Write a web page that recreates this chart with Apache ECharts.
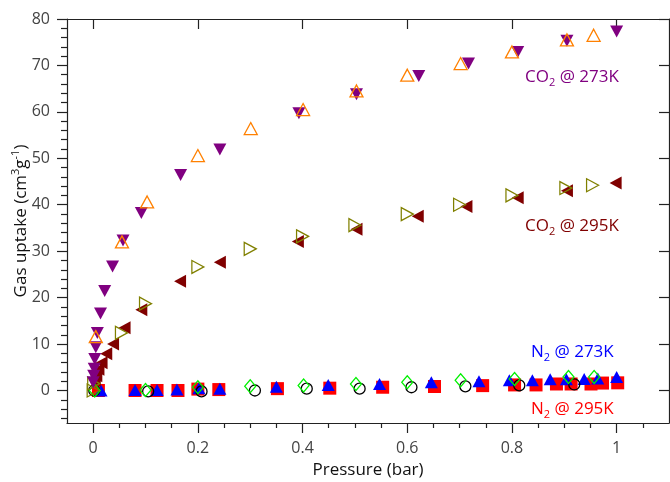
<!DOCTYPE html>
<html>
<head>
<meta charset="utf-8">
<script src="https://cdn.jsdelivr.net/npm/echarts@6/dist/echarts.min.js"></script>
<style>html,body{margin:0;padding:0;background:#fff}#c{width:670px;height:482px}</style>
</head>
<body>
<div id="c"></div>
<script>
// ---- data ----
const co2_273_ads = [[0.000,1.8],[0.001,3.2],[0.002,4.7],[0.003,6.8],[0.005,9.3],[0.008,12.4],[0.014,16.6],[0.022,21.4],[0.037,26.7],[0.057,32.3],[0.092,38.2],[0.167,46.4],[0.242,51.9],[0.393,59.7],[0.503,63.8],[0.622,67.7],[0.717,70.4],[0.811,72.9],[0.905,75.3],[1.0,77.3]];
const co2_273_des = [[0.005,11.6],[0.055,32.0],[0.103,40.6],[0.2,50.6],[0.301,56.4],[0.401,60.5],[0.503,64.5],[0.6,67.9],[0.702,70.4],[0.8,72.9],[0.905,75.5],[0.956,76.5]];
const co2_295_ads = [[0.003,2.2],[0.006,3.2],[0.010,4.6],[0.016,6.0],[0.025,7.9],[0.038,10.0],[0.060,13.5],[0.092,17.4],[0.166,23.5],[0.242,27.6],[0.391,32.1],[0.503,34.7],[0.620,37.5],[0.713,39.6],[0.811,41.5],[0.905,43.0],[0.998,44.7]];
const co2_295_des = [[0.000,0.0],[0.001,1.5],[0.054,12.4],[0.100,18.7],[0.200,26.6],[0.300,30.5],[0.400,33.2],[0.500,35.6],[0.600,38.0],[0.700,40.0],[0.800,42.0],[0.903,43.6],[0.954,44.2]];
const n2_273_ads = [[0.015,0.0],[0.080,0.1],[0.122,0.1],[0.160,0.2],[0.202,0.5],[0.242,0.4],[0.350,0.8],[0.449,1.2],[0.547,1.4],[0.646,1.8],[0.737,2.0],[0.795,2.2],[0.839,2.2],[0.873,2.4],[0.904,2.4],[0.938,2.5],[0.964,2.6],[1.0,2.9]];
const n2_273_des = [[0.003,0.0],[0.100,0.1],[0.200,0.7],[0.300,0.9],[0.402,1.1],[0.502,1.4],[0.600,1.8],[0.702,2.2],[0.805,2.5],[0.908,2.9],[0.957,2.9]];
const n2_295_ads = [[0.010,0.0],[0.080,0.0],[0.122,0.0],[0.162,0.0],[0.200,0.3],[0.240,0.2],[0.352,0.4],[0.452,0.5],[0.553,0.7],[0.652,0.86],[0.744,1.05],[0.805,1.2],[0.846,1.2],[0.885,1.4],[0.913,1.4],[0.951,1.4],[0.973,1.6],[1.002,1.65]];
const n2_295_des = [[0.002,0.0],[0.105,-0.2],[0.207,-0.2],[0.309,0.0],[0.408,0.4],[0.509,0.4],[0.608,0.7],[0.711,0.9],[0.814,1.1],[0.919,1.3]];

const xMajor = [0, 0.2, 0.4, 0.6, 0.8, 1];
const xMinor = [0.05, 0.1, 0.15, 0.25, 0.3, 0.35, 0.45, 0.5, 0.55, 0.65, 0.7, 0.75, 0.85, 0.9, 0.95, 1.05];
const yMajor = [0, 10, 20, 30, 40, 50, 60, 70, 80];
const yMinor = [-6, -4, -2, 2, 4, 6, 8, 12, 14, 16, 18, 22, 24, 26, 28, 32, 34, 36, 38, 42, 44, 46, 48, 52, 54, 56, 58, 62, 64, 66, 68, 72, 74, 76, 78];
const xTitle = 'Pressure (bar)';

// ---- chart ----
const FONT = 'Open Sans';
const AX = '#222';
const chart = echarts.init(document.getElementById('c'), null, {renderer: 'canvas'});
const xRange = {min: -0.05, max: 1.1};
const yRange = {min: -7, max: 80};

function sc(name, data, symbol, rot, size, color, filled, z) {
  return {
    name, type: 'scatter', data, symbol, symbolRotate: rot, symbolSize: size,
    xAxisIndex: 0, yAxisIndex: 0, z: z,
    itemStyle: filled ? {color: color, borderWidth: 0, opacity: 1}
                      : {color: 'rgba(0,0,0,0)', borderColor: color, borderWidth: 1.3, opacity: 1},
    emphasis: {disabled: true}
  };
}

const richSub = (color) => ({
  a: {fontSize: 17, fontFamily: FONT, fill: color, lineHeight: 22},
  s: {fontSize: 11, fontFamily: FONT, fill: color, lineHeight: 11, verticalAlign: 'bottom'}
});

chart.setOption({
  animation: false,
  backgroundColor: '#fff',
  grid: {left: 67, right: 1, top: 19, bottom: 59, containLabel: false, outerBoundsMode: 'none'},
  xAxis: [
    {type: 'value', position: 'bottom', ...xRange,
     axisLine: {show: true, onZero: false, lineStyle: {color: AX, width: 1.2}},
     axisTick: {show: true, inside: false, length: 10, customValues: xMajor, lineStyle: {color: AX, width: 1.2}},
     axisLabel: {customValues: xMajor, fontSize: 16, fontFamily: FONT, color: '#444', margin: 17,
                 formatter: v => String(Math.round(v * 10) / 10)},
     splitLine: {show: false},
     name: xTitle, nameLocation: 'middle', nameGap: 39, nameMoveOverlap: false,
     nameTextStyle: {fontSize: 17, fontFamily: FONT, color: '#111'}},
    {type: 'value', position: 'bottom', ...xRange,
     axisLine: {show: false, onZero: false},
     axisTick: {show: true, inside: false, length: 5, customValues: xMinor, lineStyle: {color: AX, width: 1.2}},
     axisLabel: {show: false}, splitLine: {show: false}},
    {type: 'value', position: 'top', ...xRange,
     axisLine: {show: true, onZero: false, lineStyle: {color: AX, width: 1.2}},
     axisTick: {show: true, inside: true, length: 10, customValues: xMajor, lineStyle: {color: AX, width: 1.2}},
     axisLabel: {show: false}, splitLine: {show: false}}
  ],
  yAxis: [
    {type: 'value', position: 'left', ...yRange,
     axisLine: {show: true, onZero: false, lineStyle: {color: AX, width: 1.2}},
     axisTick: {show: true, inside: false, length: 10, customValues: yMajor, lineStyle: {color: AX, width: 1.2}},
     axisLabel: {customValues: yMajor, fontSize: 16, fontFamily: FONT, color: '#444', margin: 17},
     splitLine: {show: false},
     name: '{a|Gas uptake (cm}{s|3}{a|g}{s|-1}{a|)}', nameLocation: 'middle', nameGap: 35, nameRotate: 90,
     nameMoveOverlap: false,
     nameTextStyle: {rich: {
       a: {fontSize: 17, fontFamily: FONT, color: '#111', lineHeight: 22},
       s: {fontSize: 11, fontFamily: FONT, color: '#111', lineHeight: 11, verticalAlign: 'top'}
     }}},
    {type: 'value', position: 'left', ...yRange,
     axisLine: {show: false, onZero: false},
     axisTick: {show: true, inside: false, length: 6, customValues: yMinor, lineStyle: {color: AX, width: 1.2}},
     axisLabel: {show: false}, splitLine: {show: false}},
    {type: 'value', position: 'right', ...yRange,
     axisLine: {show: true, onZero: false, lineStyle: {color: AX, width: 1.2}},
     axisTick: {show: true, inside: true, length: 10, customValues: yMajor, lineStyle: {color: AX, width: 1.2}},
     axisLabel: {show: false}, splitLine: {show: false}}
  ],
  series: [
    sc('N2 295K ads', n2_295_ads, 'rect', 0, 13, '#FF0000', true, 2),
    sc('N2 273K ads', n2_273_ads, 'triangle', 0, [13, 12], '#0000FF', true, 3),
    sc('N2 295K des', n2_295_des, 'circle', 0, 11, '#000000', false, 4),
    sc('N2 273K des', n2_273_des, 'diamond', 0, [11, 13], '#00F000', false, 5),
    sc('CO2 295K ads', co2_295_ads, 'triangle', 90, [13, 12], '#800000', true, 6),
    sc('CO2 295K des', co2_295_des, 'triangle', -90, [13, 12], '#808000', false, 7),
    sc('CO2 273K ads', co2_273_ads, 'triangle', 180, [13, 12], '#800080', true, 8),
    sc('CO2 273K des', co2_273_des, 'triangle', 0, [13, 12], '#FF8000', false, 9)
  ],
  graphic: [
    {type: 'text', left: 525, top: 69, z: 20, style: {text: '{a|CO}{s|2}{a| @ 273K}', rich: richSub('#800080')}},
    {type: 'text', left: 525, top: 218, z: 20, style: {text: '{a|CO}{s|2}{a| @ 295K}', rich: richSub('#800000')}},
    {type: 'text', left: 531, top: 344, z: 20, style: {text: '{a|N}{s|2}{a| @ 273K}', rich: richSub('#0000FF')}},
    {type: 'text', left: 531, top: 401, z: 20, style: {text: '{a|N}{s|2}{a| @ 295K}', rich: richSub('#FF0000')}}
  ]
});
</script>
</body>
</html>
